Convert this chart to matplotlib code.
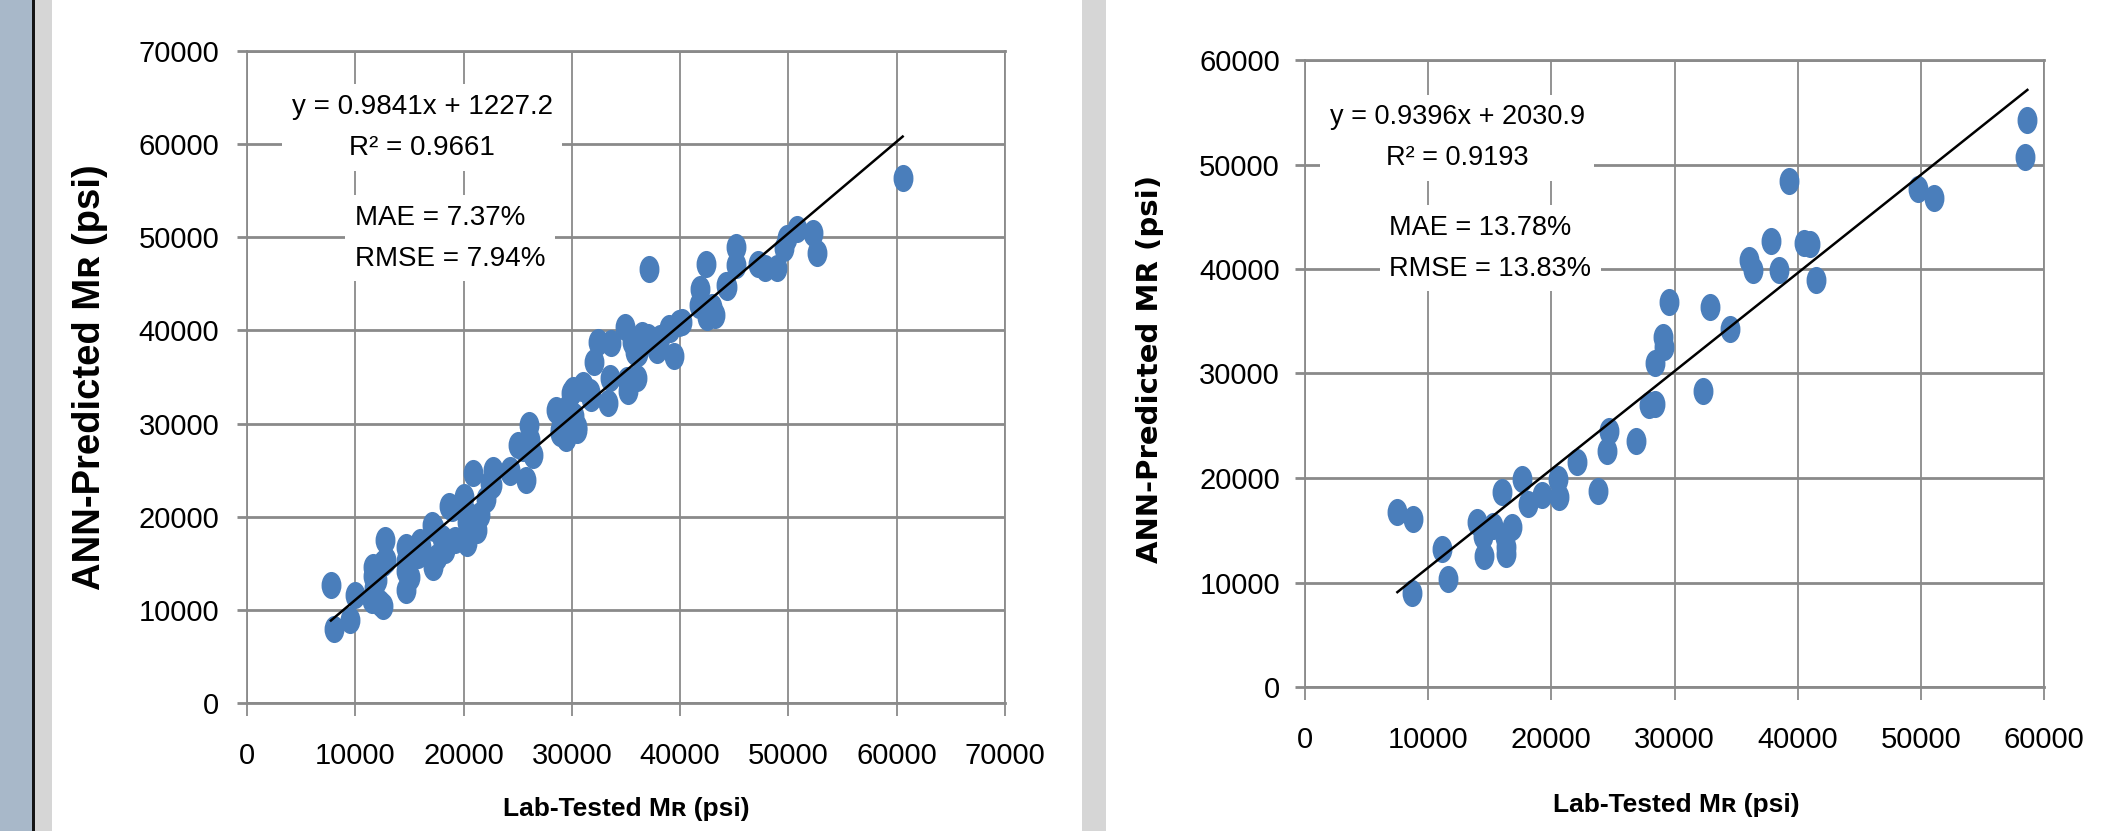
"""Lab-tested vs. ANN-predicted resilient modulus, training and testing sets."""
import matplotlib
matplotlib.use('Agg')  # Non-interactive backend
import matplotlib.pyplot as plt
from matplotlib.patches import Rectangle
from matplotlib.path import Path
from matplotlib.transforms import Affine2D

# Training set: lab-tested MR (psi) and the ANN prediction for each specimen
train_lab = [7750, 8050, 9500, 9950, 11550, 11650, 11650, 11700, 12000, 12300,
             12600, 12550, 12800, 12750, 14650, 14700, 14700, 14700, 15050, 15800,
             16000, 16100, 17050, 17200, 17300, 17500, 18000, 18300, 18300, 19200,
             20300, 21200, 18700, 18900, 20000, 20400, 20300, 21500, 20900, 22100,
             22450, 22600, 22700, 24250, 24300, 25800, 25050, 25500, 26000, 26150,
             26450, 28500, 28900, 28900, 29000, 29500, 29500, 29650, 29950, 30100,
             30200, 30450, 30450, 30950, 31050, 31650, 31800, 32000, 32400, 33350,
             33500, 33650, 34900, 35050, 35200, 35400, 35550, 35850, 36000, 36100,
             36500, 37050, 37160, 37850, 38150, 38950, 39100, 39400, 39900, 40150,
             41700, 41850, 42350, 42450, 42950, 43200, 44250, 44300, 45200, 45200,
             47200, 47850, 48900, 49550, 49850, 50750, 52250, 52600, 60550]
train_pred = [12650, 7950, 8950, 11600, 11050, 14600, 13600, 12400, 13200, 10700,
              10400, 15000, 15350, 17500, 16800, 15200, 12100, 14200, 13550, 15900,
              17300, 16800, 19100, 14600, 18800, 15700, 17700, 17150, 16400, 17500,
              17150, 18600, 21100, 20900, 22150, 20200, 19400, 20200, 24650, 21950,
              23600, 23400, 25000, 24800, 25000, 23950, 27700, 27400, 29850, 28200,
              26600, 31450, 28950, 29300, 30500, 28400, 28600, 31800, 33250, 33600,
              30800, 29300, 29650, 33800, 34150, 33400, 32700, 36650, 38800, 32200,
              34850, 38600, 40400, 34650, 33450, 34500, 38800, 37700, 34850, 37550,
              39500, 39300, 46550, 37900, 39150, 40250, 40200, 37300, 40850, 40950,
              42750, 44500, 47100, 41450, 42550, 41650, 44850, 44700, 48950, 47050,
              47150, 46650, 46650, 48800, 49900, 50850, 50450, 48300, 56350]

# Testing set
test_lab = [7500, 8650, 8800, 11100, 11600, 13950, 14450, 14500, 15300, 16000,
            16250, 16300, 16300, 16800, 17650, 18100, 19250, 20550, 20600, 22100,
            23750, 24500, 24700, 26850, 27900, 28400, 28400, 29050, 29150, 29550,
            32300, 32900, 34500, 36050, 36350, 37800, 38450, 39300, 40500, 41000,
            41450, 49750, 51100, 58450, 58650]
test_pred = [16700, 8950, 16100, 13200, 10350, 15800, 14450, 12550, 15450, 18650,
             14400, 12750, 13400, 15350, 19950, 17550, 18350, 19950, 18200, 21550,
             18750, 22600, 24450, 23550, 27000, 27100, 31050, 33450, 32550, 36850,
             28350, 36400, 34250, 40850, 39900, 42650, 39950, 48400, 42450, 42350,
             38950, 47700, 46750, 50750, 54300]

# Linear trendline (slope, intercept) and error statistics
train_fit = (0.9841, 1227.2)
test_fit = (0.9396, 2030.9)
train_r2, train_mae, train_rmse = 0.9661, 7.37, 7.94
test_r2, test_mae, test_rmse = 0.9193, 13.78, 13.83

train_ticks = [0, 10000, 20000, 30000, 40000, 50000, 60000, 70000]
test_ticks = [0, 10000, 20000, 30000, 40000, 50000, 60000]

assert len(train_lab) == len(train_pred)
assert len(test_lab) == len(test_pred)

W, H = 2119, 831
SANS = ['Liberation Sans', 'DejaVu Sans']
GRID = '#8A8A8A'
BLUE = '#4A7EBB'

# slightly tall oval dots
DOT = Path.unit_circle().transformed(Affine2D().scale(0.72, 1.0))

# M with a small-capital R subscript
MR = 'M\u0280'


def frac(x0, y0, x1, y1):
    """Pixel box (top-left origin) -> figure fraction rect."""
    return [x0 / W, 1 - y1 / H, (x1 - x0) / W, (y1 - y0) / H]


def draw_panel(ax, lab, pred, ticks, fit, r2, mae, rmse, ylabel, ylabel_font,
               note_size, eq_pos, err_pos, xlab_pos, ylab_pos, ytick_pad):
    lim = ticks[-1]
    ax.set_xlim(0, lim)
    ax.set_ylim(0, lim)
    ax.set_xticks(ticks)
    ax.set_yticks(ticks)
    ax.set_xticklabels([str(t) for t in ticks], family=SANS, fontsize=21)
    ax.set_yticklabels([str(t) for t in ticks], family=SANS, fontsize=21)

    ax.set_axisbelow(True)
    ax.xaxis.grid(True, color=GRID, lw=1.3)
    ax.yaxis.grid(True, color=GRID, lw=2.0)
    for side in ('left', 'right'):
        ax.spines[side].set_color(GRID)
        ax.spines[side].set_linewidth(1.3)
    for side in ('top', 'bottom'):
        ax.spines[side].set_color(GRID)
        ax.spines[side].set_linewidth(2.0)
    ax.tick_params(axis='x', direction='out', length=9, width=1.3, color=GRID, pad=19)
    ax.tick_params(axis='y', direction='out', length=7, width=2.0, color=GRID, pad=ytick_pad)

    ax.plot(lab, pred, linestyle='none', marker=DOT, markersize=18.5,
            markerfacecolor=BLUE, markeredgecolor=BLUE, zorder=3)

    slope, intercept = fit
    xs = [min(lab), max(lab)]
    ax.plot(xs, [slope * x + intercept for x in xs], color='black', lw=1.8, zorder=4)

    box = dict(boxstyle='square,pad=0.35', facecolor='white', edgecolor='none')
    ax.text(eq_pos[0], eq_pos[1], f'y = {slope:.4f}x + {intercept:.1f}\nR\u00b2 = {r2:.4f}',
            transform=ax.transAxes, ha='center', va='center', multialignment='center',
            family=SANS, fontsize=note_size, linespacing=1.75, bbox=box, zorder=5)
    ax.text(err_pos[0], err_pos[1], f'MAE = {mae:.2f}%\nRMSE = {rmse:.2f}%',
            transform=ax.transAxes, ha='left', va='center', multialignment='left',
            family=SANS, fontsize=note_size, linespacing=1.75, bbox=box, zorder=5)

    ax.set_xlabel(f'Lab-Tested {MR} (psi)', family=SANS,
                  fontweight='bold', fontsize=19, va='center', ha='center')
    ax.xaxis.set_label_coords(*xlab_pos)
    ax.set_ylabel(ylabel, va='center', ha='center', **ylabel_font)
    ax.yaxis.set_label_coords(*ylab_pos)


fig = plt.figure(figsize=(W / 100, H / 100), dpi=100)

# page margin strips
fig.add_artist(Rectangle((0, 0), 32 / W, 1, transform=fig.transFigure,
                         facecolor='#A8B8C9', edgecolor='none', zorder=0))
fig.add_artist(Rectangle((32 / W, 0), 3 / W, 1, transform=fig.transFigure,
                         facecolor='#151515', edgecolor='none', zorder=0))
fig.add_artist(Rectangle((35 / W, 0), 17 / W, 1, transform=fig.transFigure,
                         facecolor='#D6D6D6', edgecolor='none', zorder=0))
fig.add_artist(Rectangle((1082 / W, 0), 24 / W, 1, transform=fig.transFigure,
                         facecolor='#D6D6D6', edgecolor='none', zorder=0))

ax_train = fig.add_axes(frac(247, 51, 1005, 703))
ax_test = fig.add_axes(frac(1305, 60, 2044, 687))

draw_panel(ax_train, train_lab, train_pred, train_ticks, train_fit,
           train_r2, train_mae, train_rmse,
           f'ANN-Predicted {MR} (psi)',
           dict(family=SANS, fontweight='bold', fontsize=27.5),
           note_size=20,
           eq_pos=(0.231, 0.883), err_pos=(0.1425, 0.713),
           xlab_pos=(0.5, -0.163), ylab_pos=(-0.207, 0.5), ytick_pad=13)

draw_panel(ax_test, test_lab, test_pred, test_ticks, test_fit,
           test_r2, test_mae, test_rmse,
           'ANN-Predicted MR (psi)',
           dict(family='DejaVu Sans', fontweight='bold', fontsize=21),
           note_size=19.5,
           eq_pos=(0.206, 0.876), err_pos=(0.114, 0.700),
           xlab_pos=(0.502, -0.188), ylab_pos=(-0.21, 0.507), ytick_pad=11)

fig.savefig('out.png', dpi=100)
plt.close(fig)
